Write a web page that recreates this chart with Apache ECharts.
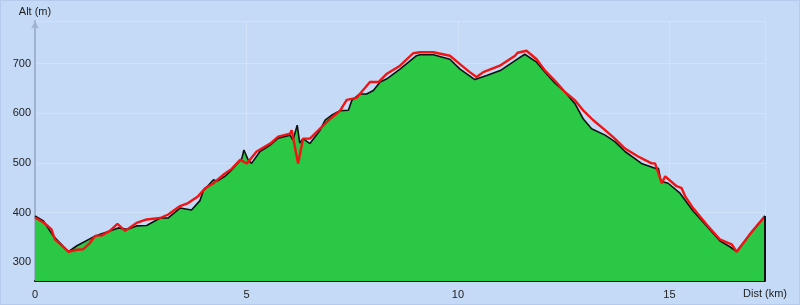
<!DOCTYPE html>
<html>
<head>
<meta charset="utf-8">
<script src="https://cdn.jsdelivr.net/npm/echarts@6/dist/echarts.min.js"></script>
<style>
html,body{margin:0;padding:0;background:#c5daf7;}
#c{width:800px;height:305px;box-sizing:border-box;border:1px solid #b4cbeb;}
</style>
</head>
<body>
<div id="c"></div>
<script>
// Ground profile (black line, green fill)
const distBlack = [0,0.20,0.43,0.79,0.99,1.34,1.54,1.77,1.97,2.17,2.40,2.64,2.96,3.15,3.43,3.70,3.90,3.98,4.22,4.30,4.49,4.65,4.89,4.94,5.04,5.12,5.32,5.56,5.75,6.03,6.10,6.20,6.26,6.34,6.50,6.74,6.86,7.01,7.21,7.41,7.49,7.68,7.84,8.00,8.16,8.31,8.63,9.02,9.10,9.42,9.81,10.05,10.40,10.68,11.00,11.35,11.58,11.86,12.06,12.29,12.53,12.77,12.96,13.16,13.48,13.71,13.95,14.34,14.66,14.74,14.80,14.97,15.25,15.56,15.88,16.19,16.43,16.59,16.90,17.26];
const altBlack  = [393,383,353,321,333,349,356,363,369,366,373,374,389,389,409,405,424,444,466,463,473,486,509,526,506,499,523,536,550,556,546,576,540,549,539,566,586,596,605,606,626,639,639,646,663,669,689,716,718,718,709,689,668,676,686,706,719,703,683,661,643,619,589,569,556,543,523,499,489,489,463,459,439,403,373,343,331,321,356,393];
// GPS track (red line)
const distRed = [0,0.20,0.26,0.39,0.47,0.79,0.99,1.14,1.30,1.42,1.58,1.77,1.95,2.13,2.40,2.64,2.96,3.15,3.43,3.62,3.86,4.02,4.22,4.45,4.65,4.85,5.01,5.24,5.56,5.75,6.03,6.07,6.22,6.34,6.50,6.74,6.98,7.21,7.37,7.60,7.92,8.12,8.31,8.63,8.94,9.10,9.42,9.81,10.09,10.28,10.44,10.60,10.99,11.35,11.41,11.62,11.86,12.06,12.29,12.53,12.77,12.96,13.20,13.48,13.71,13.95,14.26,14.58,14.66,14.82,14.90,15.17,15.29,15.37,15.56,15.88,16.19,16.47,16.59,16.90,17.26];
const altRed  = [390,380,376,366,346,321,325,326,339,353,354,363,377,363,379,386,389,396,413,419,433,449,459,476,488,506,499,523,539,553,559,566,499,549,549,569,589,605,627,631,663,663,679,696,721,723,723,716,696,683,673,683,696,716,722,726,709,686,666,643,626,606,586,566,549,529,513,499,499,459,473,453,449,433,409,376,346,336,321,356,393];
const xTicks = [0,5,10,15];
const yTicks = [300,400,500,600,700];

const yMin = 262, yMax = 786;
const xMax = distBlack[distBlack.length-1];
const pair = (xs, ys) => xs.map((x,i)=>[x, ys[i]]);
const font = 'Liberation Sans, Arial, sans-serif';

const chart = echarts.init(document.getElementById('c'), null, {renderer:'canvas'});
chart.setOption({
  animation:false,
  backgroundColor:'#c5daf7',
  grid:{left:34, right:34, top:20, bottom:23, containLabel:false},
  xAxis:{
    type:'value', min:0, max:xMax, interval:5,
    name:'Dist (km)', nameLocation:'end', nameGap:0,
    nameTextStyle:{color:'#222', fontSize:11, fontFamily:font, align:'center', verticalAlign:'top', padding:[7,0,0,0]},
    axisLine:{show:true, onZero:false, lineStyle:{color:'#111', width:2}},
    axisTick:{show:false},
    axisLabel:{color:'#222', fontSize:11, fontFamily:font, margin:8, showMaxLabel:false,
      formatter:v => xTicks.includes(v) ? String(v) : ''},
    splitLine:{show:true, lineStyle:{color:'rgba(255,255,255,0.22)', width:1}}
  },
  yAxis:{
    type:'value', min:yMin, max:yMax,
    name:'Alt (m)', nameLocation:'end', nameGap:4,
    nameTextStyle:{color:'#222', fontSize:11, fontFamily:font},
    axisLine:{show:true, symbol:['none','arrow'], symbolSize:[6,8], lineStyle:{color:'#9eb3cf', width:2}},
    axisTick:{show:false},
    axisLabel:{color:'#222', fontSize:11, fontFamily:font, margin:4, showMinLabel:false, showMaxLabel:false,
      formatter:v => yTicks.includes(v) ? String(v) : ''},
    splitLine:{show:true, lineStyle:{color:'rgba(255,255,255,0.22)', width:1}}
  },
  series:[
    {
      type:'line', data:pair(distBlack, altBlack), symbol:'none',
      lineStyle:{color:'#111', width:1.6},
      areaStyle:{color:'#2bc845', opacity:1, origin:'start'},
      markLine:{silent:true, symbol:'none', label:{show:false},
        lineStyle:{color:'#111', width:2, type:'solid'},
        data:[[{coord:[xMax, yMin]},{coord:[xMax, altBlack[altBlack.length-1]]}]]},
      z:2
    },
    {
      type:'line', data:pair(distRed, altRed), symbol:'none',
      lineStyle:{color:'#f01414', width:2.4},
      z:3
    }
  ]
});
</script>
</body>
</html>
